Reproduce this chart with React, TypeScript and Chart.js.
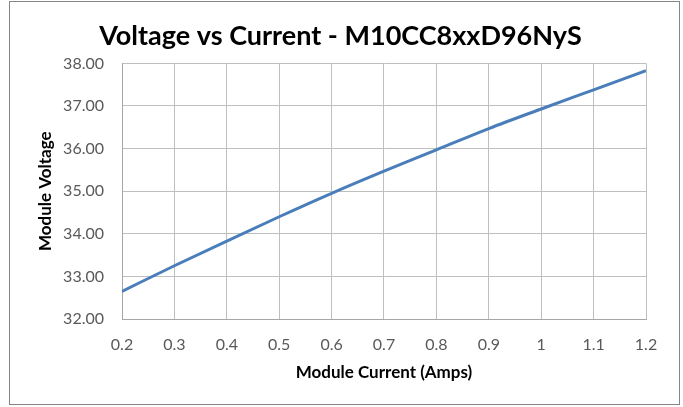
import React, { useEffect, useRef } from "react";
import { Chart, registerables } from "chart.js";

Chart.register(...registerables);

const currents = [0.2, 0.3, 0.4, 0.5, 0.6, 0.7, 0.8, 0.9, 1.0, 1.1, 1.2];
const voltages = [32.65, 33.25, 33.83, 34.4, 34.95, 35.47, 35.97, 36.47, 36.93, 37.38, 37.83];
const xTicks = [0.2, 0.3, 0.4, 0.5, 0.6, 0.7, 0.8, 0.9, 1, 1.1, 1.2];

const titleText = "Voltage vs Current - M10CC8xxD96NyS";
const xTitle = "Module Current (Amps)";
const yTitle = "Module Voltage";

const FONT = "Lato, 'Open Sans', sans-serif";

const framePlugin = {
  id: "frame",
  beforeDraw(chart: any) {
    const ctx = chart.ctx;
    ctx.save();
    ctx.fillStyle = "#ffffff";
    ctx.fillRect(0, 0, chart.width, chart.height);
    ctx.strokeStyle = "#868686";
    ctx.lineWidth = 1;
    ctx.strokeRect(9.5, 1.5, 670, 403);
    ctx.restore();
  },
};

export default function App() {
  const ref = useRef<HTMLCanvasElement | null>(null);
  useEffect(() => {
    document.body.style.margin = "0";
    const c = ref.current!;
    const chart = new Chart(c, {
      type: "line",
      data: {
        datasets: [
          {
            data: currents.map((x, i) => ({ x, y: voltages[i] })),
            borderColor: "#4A7EBB",
            borderWidth: 3,
            pointRadius: 0,
            tension: 0.4,
            cubicInterpolationMode: "monotone",
            fill: false,
          },
        ],
      },
      options: {
        responsive: false,
        animation: false,
        layout: { padding: { left: 35, right: 37, top: 10, bottom: 24 } },
        plugins: {
          legend: { display: false },
          tooltip: { enabled: false },
          title: {
            display: true,
            text: titleText,
            color: "#000000",
            font: { family: FONT, size: 27, weight: "bold" },
            padding: { top: 10, bottom: 11 },
          },
        },
        scales: {
          x: {
            type: "linear",
            min: 0.2,
            max: 1.2,
            afterBuildTicks: (s: any) => {
              s.ticks = xTicks.map((v) => ({ value: v }));
            },
            afterFit: (s: any) => {
              s.height = 64;
            },
            ticks: {
              color: "#595959",
              font: { family: FONT, size: 16 },
              padding: 16,
              maxRotation: 0,
              callback: (v: any) => String(Math.round(Number(v) * 10) / 10),
            },
            grid: { color: "#BFBFBF", drawTicks: false, lineWidth: 1 },
            border: { color: "#A6A6A6" },
            title: {
              display: true,
              text: xTitle,
              color: "#000000",
              font: { family: FONT, size: 17, weight: "bold" },
              padding: { top: 8, bottom: 0 },
            },
          },
          y: {
            type: "linear",
            min: 32,
            max: 38,
            afterFit: (s: any) => {
              s.width = 87;
            },
            ticks: {
              stepSize: 1,
              color: "#595959",
              font: { family: FONT, size: 16 },
              padding: 18,
              callback: (v: any) => Number(v).toFixed(2),
            },
            grid: { color: "#BFBFBF", drawTicks: false, lineWidth: 1 },
            border: { color: "#A6A6A6" },
            title: {
              display: true,
              text: yTitle,
              color: "#000000",
              font: { family: FONT, size: 17, weight: "bold" },
              padding: { top: 0, bottom: 8 },
            },
          },
        },
      },
      plugins: [framePlugin],
    } as any);
    return () => chart.destroy();
  }, []);
  return (
    <div style={{ width: 683, height: 407 }}>
      <canvas ref={ref} width={683} height={407} style={{ display: "block" }} />
    </div>
  );
}
